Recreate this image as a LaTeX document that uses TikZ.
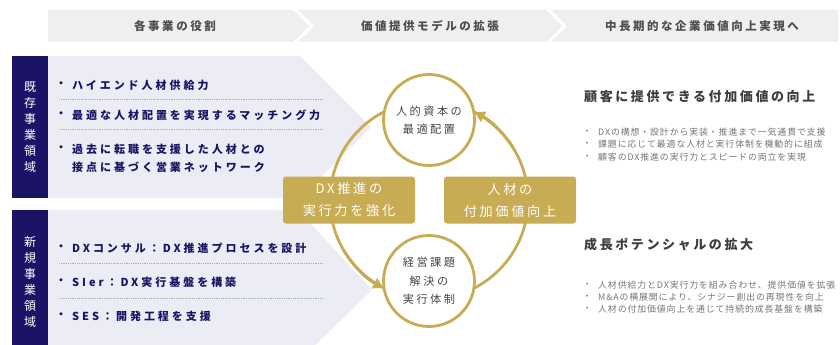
\documentclass[tikz,border=0pt]{standalone}
\usepackage{fontspec}
\usetikzlibrary{arrows.meta}
\newfontfamily\jpHdr[LetterSpace=22]{Noto Sans CJK JP}
\newfontfamily\jpNav[LetterSpace=27]{Noto Sans CJK JP}
\newfontfamily\jpCir[LetterSpace=22]{Noto Sans CJK JP}
\newfontfamily\jpBox[LetterSpace=20]{Noto Sans CJK JP}
\newfontfamily\jpRH[LetterSpace=20]{Noto Sans CJK JP}
\newfontfamily\jpRT[LetterSpace=10]{Noto Sans CJK JP}
\newfontfamily\jpV{Noto Sans CJK JP}
\definecolor{hdrbg}{HTML}{EFEFEF}
\definecolor{hdrtxt}{HTML}{4E4E4E}
\definecolor{navyc}{HTML}{1B1466}
\definecolor{lavc}{HTML}{ECECF5}
\definecolor{dotc}{HTML}{A9A9D0}
\definecolor{goldc}{HTML}{C8AC54}
\definecolor{cirtxt}{HTML}{474747}
\definecolor{rhtxt}{HTML}{3E3E3E}
\definecolor{rbtxt}{HTML}{767676}
\begin{document}
\begin{tikzpicture}[x=1pt,y=-1pt,
  hdr/.style={font=\jpHdr\bfseries\fontsize{11.5}{13}\selectfont, text=hdrtxt, inner sep=0pt},
  vlabel/.style={font=\jpV\fontsize{12}{16}\selectfont, text=white, align=center, inner sep=0pt},
  navtxt/.style={font=\jpNav\bfseries\fontsize{11}{18}\selectfont, text=navyc, anchor=west, inner sep=0pt, align=left},
  navdot/.style={font=\jpV\bfseries\fontsize{11}{13}\selectfont, text=navyc, inner sep=0pt},
  dotline/.style={draw=dotc, line width=0.9pt, dash pattern=on 0.9pt off 0.9pt},
  ring/.style={draw=goldc, line width=2.8pt},
  circ/.style={circle, draw=goldc, line width=2.8pt, fill=white, minimum size=91pt, inner sep=0pt, align=center, text=cirtxt, font=\jpCir\fontsize{11.2}{18.5}\selectfont},
  gbox/.style={rectangle, rounded corners=3pt, fill=goldc, minimum width=132pt, minimum height=47pt, inner sep=0pt, align=center, text=white, font=\jpBox\fontsize{13.2}{22}\selectfont},
  rhead/.style={font=\jpRH\bfseries\fontsize{13}{15}\selectfont, text=rhtxt, anchor=west, inner sep=0pt},
  rtxt/.style={font=\jpRT\fontsize{8.9}{10}\selectfont, text=rbtxt, anchor=west, inner sep=0pt},
  rdot/.style={font=\jpV\fontsize{8.9}{10}\selectfont, text=rbtxt, inner sep=0pt}
]
\useasboundingbox (0,0) rectangle (840,345);
\clip (0,0) rectangle (840,345);
\fill[white] (0,0) rectangle (840,345);

% header chevrons
\fill[hdrbg] (48,10) -- (293,10) -- (309,26) -- (293,42) -- (48,42) -- cycle;
\fill[hdrbg] (298,10) -- (546,10) -- (562,26) -- (546,42) -- (298,42) -- (314,26) -- cycle;
\fill[hdrbg] (551,10) -- (838,10) -- (838,42) -- (551,42) -- (567,26) -- cycle;
\node[hdr] (hA) at (175,26) {各事業の役割};
\node[hdr] (hB) at (430,26) {価値提供モデルの拡張};
\node[hdr] (hC) at (702,26) {中長期的な企業価値向上実現へ};

% left panels
\fill[lavc] (48,56) -- (300,56) -- (371,127) -- (300,198) -- (48,198) -- cycle;
\fill[navyc] (12,56) rectangle (48,198);
\fill[lavc] (48,210) -- (298,210) -- (372,290) -- (298,362) -- (48,362) -- cycle;
\fill[navyc] (12,210) rectangle (48,362);
\node[vlabel] (vA) at (30,127) {既\\存\\事\\業\\領\\域};
\node[vlabel] (vB) at (30,282) {新\\規\\事\\業\\領\\域};

% existing business bullets
\node[navdot] (d1) at (61,85) {・};
\node[navtxt] (t1) at (72,85) {ハイエンド人材供給力};
\draw[dotline] (59,99.5) -- (323,99.5);
\node[navdot] (d2) at (61,115) {・};
\node[navtxt] (t2) at (72,115) {最適な人材配置を実現するマッチング力};
\draw[dotline] (59,129.5) -- (323,129.5);
\node[navdot] (d3) at (61,149) {・};
\node[navtxt] (t3) at (72,149) {過去に転職を支援した人材との};
\node[navtxt] (t3b) at (72,167) {接点に基づく営業ネットワーク};

% new business bullets
\node[navdot] (d4) at (61,248) {・};
\node[navtxt] (t4) at (72,248) {DXコンサル：DX推進プロセスを設計};
\draw[dotline] (59,263.5) -- (323,263.5);
\node[navdot] (d5) at (61,282) {・};
\node[navtxt] (t5) at (72,282) {SIer：DX実行基盤を構築};
\draw[dotline] (59,298.5) -- (323,298.5);
\node[navdot] (d6) at (61,316) {・};
\node[navtxt] (t6) at (72,316) {SES：開発工程を支援};

% cycle
\coordinate (C) at (429,200);
\draw[ring] (C) circle[radius=99];
\node[circ] (topc) at (429,120) {人的資本の\\最適配置};
\node[circ] (botc) at (429,281) {経営課題\\解決の\\実行体制};
\node[gbox] (lbox) at (349,200) {DX推進の\\実行力を強化};
\node[gbox] (rbox) at (510,200) {人材の\\付加価値向上};
\draw[ring, -{Triangle[length=10pt,width=11pt]}] ([shift={(150:99)}]C) arc[start angle=150, end angle=117.5, radius=99];
\draw[ring, -{Triangle[length=10pt,width=11pt]}] ([shift={(-30:99)}]C) arc[start angle=-30, end angle=-62.5, radius=99];

% right side
\node[rhead] (rh1) at (584,97) {顧客に提供できる付加価値の向上};
\node[rdot] (rd1) at (587,132) {・};
\node[rtxt] (r1) at (598,132) {DXの構想・設計から実装・推進まで一気通貫で支援};
\node[rdot] (rd2) at (587,144.5) {・};
\node[rtxt] (r2) at (598,144.5) {課題に応じて最適な人材と実行体制を機動的に組成};
\node[rdot] (rd3) at (587,157) {・};
\node[rtxt] (r3) at (598,157) {顧客のDX推進の実行力とスピードの両立を実現};

\node[rhead] (rh2) at (584,245) {成長ポテンシャルの拡大};
\node[rdot] (rd4) at (587,285) {・};
\node[rtxt] (r4) at (598,285) {人材供給力とDX実行力を組み合わせ、提供価値を拡張};
\node[rdot] (rd5) at (587,297) {・};
\node[rtxt] (r5) at (598,297) {M\&Aの横展開により、シナジー創出の再現性を向上};
\node[rdot] (rd6) at (587,309) {・};
\node[rtxt] (r6) at (598,309) {人材の付加価値向上を通じて持続的成長基盤を構築};
\end{tikzpicture}
\end{document}
